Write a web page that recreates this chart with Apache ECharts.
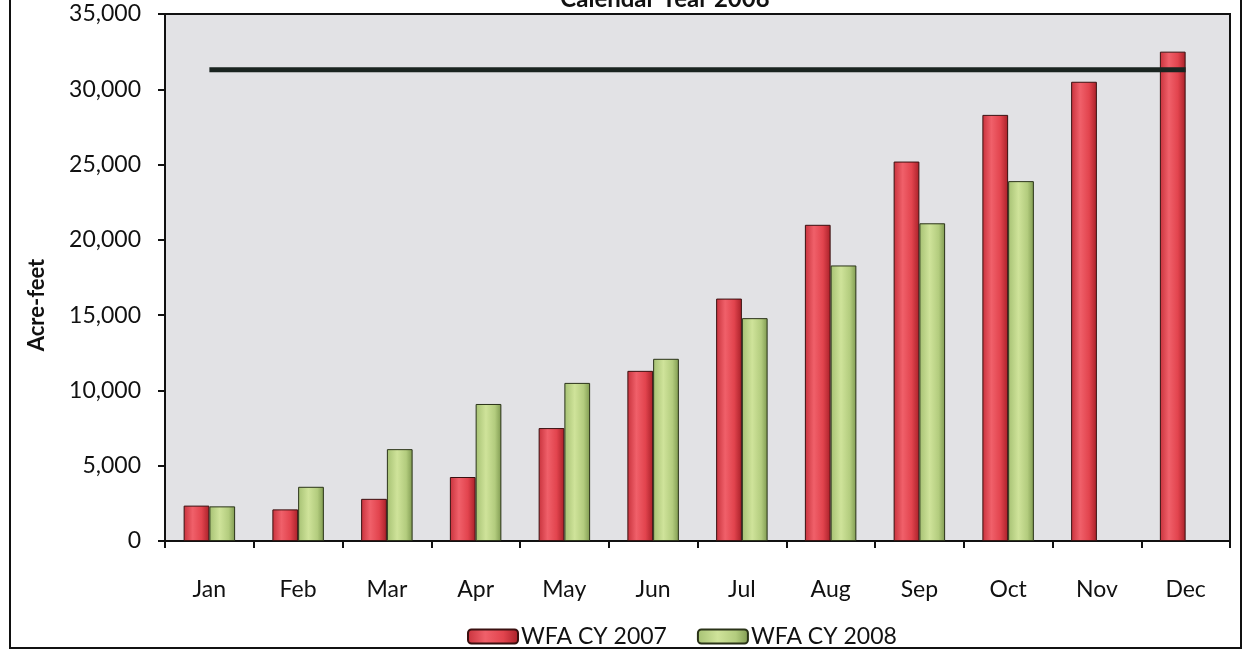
<!DOCTYPE html>
<html><head><meta charset="utf-8">
<script src="https://cdn.jsdelivr.net/npm/echarts@6/dist/echarts.min.js"></script>
<style>html,body{margin:0;padding:0;background:#fff}#c{width:1243px;height:654px}</style>
</head><body><div id="c"></div>
<script>
const months = ['Jan','Feb','Mar','Apr','May','Jun','Jul','Aug','Sep','Oct','Nov','Dec'];
const wfa2007 = [2350, 2100, 2800, 4250, 7500, 11300, 16100, 21000, 25200, 28300, 30500, 32500];
const wfa2008 = [2300, 3600, 6100, 9100, 10500, 12100, 14800, 18300, 21100, 23900, null, null];
const limitValue = 31300;
const limitLine = months.map(() => limitValue);

const chart = echarts.init(document.getElementById('c'));
const FONT = 'Lato';
const redGrad = new echarts.graphic.LinearGradient(0,0,1,0,[
  {offset:0,color:'#c8323c'},{offset:0.35,color:'#f0606a'},{offset:0.7,color:'#e2444e'},{offset:1,color:'#a82028'}]);
const greenGrad = new echarts.graphic.LinearGradient(0,0,1,0,[
  {offset:0,color:'#a6c173'},{offset:0.4,color:'#cfe39a'},{offset:0.75,color:'#b3cc7e'},{offset:1,color:'#7f9a50'}]);

chart.setOption({
  animation:false,
  textStyle:{fontFamily:FONT},
  title:{text:'Calendar Year 2008',left:660,textAlign:'center',top:-18,
    textStyle:{fontFamily:FONT,fontSize:24,fontWeight:'bold',color:'#111'}},
  graphic:[
    {type:'rect',shape:{x:10,y:-5,width:1231,height:653},
      style:{fill:'none',stroke:'#111',lineWidth:2},silent:true},
    {type:'text',x:37,y:305,rotation:Math.PI/2,
      style:{text:'Acre-feet',fontFamily:FONT,fontSize:22,fontWeight:'bold',fill:'#111',
        textAlign:'center',textVerticalAlign:'middle'},silent:true}
  ],
  grid:{left:165,right:13,top:14,bottom:113,show:true,backgroundColor:'#e2e2e5',borderColor:'#111',borderWidth:2},
  legend:{bottom:1,left:462,itemWidth:50,itemHeight:14,itemGap:30,
    data:['WFA CY 2007','WFA CY 2008'],
    textStyle:{fontFamily:FONT,fontSize:23,color:'#111',padding:[0,0,0,-2]}},
  xAxis:{type:'category',data:months,boundaryGap:true,
    axisLine:{lineStyle:{color:'#111',width:2}},
    axisTick:{show:true,alignWithLabel:false,length:7,lineStyle:{color:'#111',width:2}},
    axisLabel:{fontFamily:FONT,fontSize:23,color:'#111',margin:37}},
  yAxis:{type:'value',min:0,max:35000,interval:5000,
    axisLine:{show:true,lineStyle:{color:'#111',width:2}},
    axisTick:{show:true,length:7,lineStyle:{color:'#111',width:2}},
    splitLine:{show:false},
    axisLabel:{fontFamily:FONT,fontSize:23,color:'#111',margin:24,
      formatter:v=>v.toLocaleString('en-US')}},
  series:[
    {name:'WFA CY 2007',type:'bar',data:wfa2007,barGap:'0%',barCategoryGap:'42%',
      itemStyle:{color:redGrad,borderColor:'#3a1010',borderWidth:1}},
    {name:'WFA CY 2008',type:'bar',data:wfa2008,barGap:'0%',barCategoryGap:'42%',
      itemStyle:{color:greenGrad,borderColor:'#2a3318',borderWidth:1}},
    {name:'Limit',type:'line',data:limitLine,symbol:'none',z:5,
      lineStyle:{color:'#1a2420',width:5}}
  ]
});
</script></body></html>
